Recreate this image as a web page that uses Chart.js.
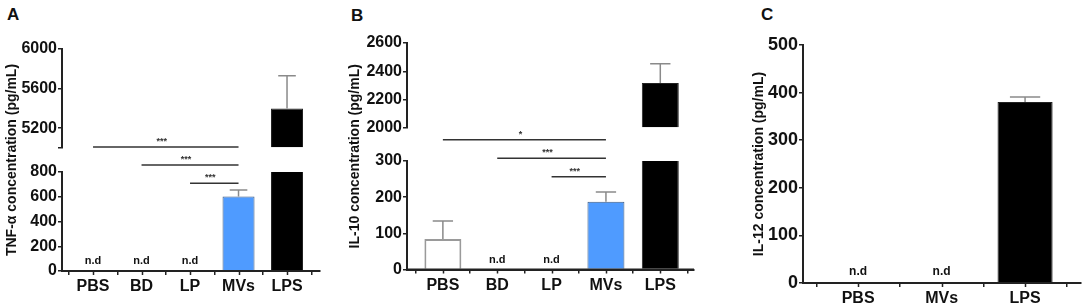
<!DOCTYPE html>
<html>
<head>
<meta charset="utf-8">
<script src="https://cdn.jsdelivr.net/npm/chart.js@4.4.1/dist/chart.umd.min.js"></script>
<style>
body { margin: 0; background: #fff; width: 1084px; height: 306px; position: relative; overflow: hidden; font-family: "Liberation Sans", Arial, sans-serif; }
canvas { position: absolute; top: 0; }
.tag { position: absolute; font-weight: bold; font-size: 17px; line-height: 17px; color: #111; }
</style>
</head>
<body>
<div class="tag" style="left:7px;top:6px">A</div>
<div class="tag" style="left:351px;top:7px">B</div>
<div class="tag" style="left:761px;top:6px">C</div>
<canvas id="chartA" width="335" height="306" style="left:0px"></canvas>
<canvas id="chartB" width="360" height="306" style="left:340px"></canvas>
<canvas id="chartC" width="384" height="306" style="left:700px"></canvas>
<script>
// panel A - TNF-a
var tnfCats = ['PBS', 'BD', 'LP', 'MVs', 'LPS'];
var tnfValues = [null, null, null, 603, 5400];
var tnfErrors = [null, null, null, 52, 330];
var tnfLowTicks = [0, 200, 400, 600, 800];
var tnfHighTicks = [5000, 5200, 5600, 6000];
var tnfSig = [[2, 3, '***'], [1, 3, '***'], [0, 3, '***']];

// panel B - IL-10
var il10Cats = ['PBS', 'BD', 'LP', 'MVs', 'LPS'];
var il10Values = [84, null, null, 187, 2318];
var il10Errors = [50, null, null, 27, 136];
var il10LowTicks = [0, 100, 200, 300];
var il10HighTicks = [2000, 2200, 2400, 2600];
var il10Sig = [[2, 3, '***'], [1, 3, '***'], [0, 3, '*']];

// panel C - IL-12
var il12Cats = ['PBS', 'MVs', 'LPS'];
var il12Values = [null, null, 380];
var il12Errors = [null, null, 11];
var il12Ticks = [0, 100, 200, 300, 400, 500];

var FONT = '"Liberation Sans", Arial, sans-serif';
var AXIS = '#222';
var barFill = {PBS: '#ffffff', MVs: '#4f9bff', LPS: '#000000'};
var barEdge = {PBS: '#9a9a9a', MVs: '#3d5a80', LPS: '#222222'};
var barEdgeW = {PBS: 2, MVs: 1, LPS: 1};

function bold(size) { return {family: FONT, size: size, weight: 'bold'}; }

function xAxis(cats, min, max, h) {
    return {
        type: 'linear', position: 'bottom', min: min, max: max, offset: false,
        afterBuildTicks: function(s) { s.ticks = cats.map(function(c, i) { return {value: i}; }); },
        afterFit: function(s) { s.height = h; },
        ticks: {callback: function(v) { return cats[v]; }, font: bold(16), color: '#111', padding: 2, maxRotation: 0, autoSkip: false},
        grid: {drawOnChartArea: false, tickLength: 4, color: AXIS, lineWidth: 1.5},
        border: {color: AXIS, width: 2}
    };
}

function yAxis(ticks, min, max, w, stackW, order, hideFirst) {
    return {
        type: 'linear', position: 'left', min: min, max: max, weight: order,
        stack: stackW ? 'seg' : undefined, stackWeight: stackW || 1,
        afterBuildTicks: function(s) { s.ticks = ticks.map(function(v) { return {value: v}; }); },
        afterFit: function(s) { s.width = w; },
        ticks: {font: bold(16), color: '#111', padding: 1, autoSkip: false,
            callback: function(v) { return (hideFirst && v === ticks[0]) ? '' : String(v); }},
        grid: {drawOnChartArea: false, tickLength: 4, color: AXIS, lineWidth: 1.5},
        border: {color: AXIS, width: 2}
    };
}

function gapAxis(w, stackW) {
    return {
        type: 'linear', position: 'left', stack: 'seg', stackWeight: stackW, weight: 2,
        afterFit: function(s) { s.width = w; },
        ticks: {display: false}, grid: {display: false}, border: {display: false}
    };
}

function titleAxis(text, size, pad) {
    return {
        type: 'linear', position: 'left', weight: 10,
        afterFit: function(s) { s.width = 0; },
        ticks: {display: false}, grid: {display: false}, border: {display: false},
        title: {display: true, text: text, font: bold(size), color: '#111', padding: {top: pad, bottom: 0}}
    };
}

// only the detected values become bars
function barData(cats, values, yId, base) {
    var pts = values.map(function(v, i) { return {x: i, y: v}; })
        .filter(function(p) { return p.y !== null; });
    var ds = {
        data: pts,
        yAxisID: yId,
        grouped: false,
        backgroundColor: pts.map(function(p) { return barFill[cats[p.x]]; }),
        borderColor: pts.map(function(p) { return barEdge[cats[p.x]]; }),
        borderWidth: pts.map(function(p) { return barEdgeW[cats[p.x]]; }),
        clip: 0
    };
    if (base !== undefined) ds.base = base;
    return ds;
}

function aboveBreak(values, brk) {
    return values.map(function(v) { return v !== null && v >= brk ? v : null; });
}

// error bars, n.d labels and significance brackets
var marks = {
    id: 'marks',
    afterDatasetsDraw: function(chart, args, o) {
        var ctx = chart.ctx, x = chart.scales.x;
        var low = chart.scales.yLow, high = chart.scales.yHigh;
        var unit = x.getPixelForValue(1) - x.getPixelForValue(0);
        var cap = unit * o.barPct * 0.55;
        ctx.save();
        o.values.forEach(function(v, i) {
            var cx = x.getPixelForValue(i);
            if (v === null) {
                ctx.fillStyle = '#111';
                ctx.font = 'bold ' + o.ndSize + 'px ' + FONT;
                ctx.textAlign = 'center';
                ctx.textBaseline = 'middle';
                ctx.fillText('n.d', cx, low.getPixelForValue(0) - o.ndLift);
                return;
            }
            var s = (high && v >= high.min) ? high : low;
            var y0 = s.getPixelForValue(v), y1 = s.getPixelForValue(v + o.errors[i]);
            ctx.strokeStyle = '#8a8a8a';
            ctx.lineWidth = 1.5;
            ctx.beginPath();
            ctx.moveTo(cx, y0); ctx.lineTo(cx, y1);
            ctx.moveTo(cx - cap / 2, y1); ctx.lineTo(cx + cap / 2, y1);
            ctx.stroke();
        });
        (o.sig || []).forEach(function(g, k) {
            var y = low.top + o.sigBase - k * o.sigStep;
            var a = x.getPixelForValue(g[0]), b = x.getPixelForValue(g[1]);
            ctx.strokeStyle = '#333';
            ctx.lineWidth = 1.5;
            ctx.beginPath();
            ctx.moveTo(a, y); ctx.lineTo(b, y);
            ctx.stroke();
            ctx.fillStyle = '#333';
            ctx.font = 'bold 9px ' + FONT;
            ctx.textAlign = 'center';
            ctx.textBaseline = 'bottom';
            ctx.fillText(g[2], (a + b) / 2 - 4, y - 1);
        });
        ctx.restore();
    },
    // category axis baseline and tick marks, placed from the scales
    afterDraw: function(chart) {
        var ctx = chart.ctx, x = chart.scales.x, low = chart.scales.yLow;
        var y = low.getPixelForValue(low.min);
        var x0 = x.getPixelForValue(x.min), x1 = x.getPixelForValue(x.max);
        ctx.save();
        ctx.strokeStyle = AXIS;
        ctx.lineWidth = 2;
        ctx.beginPath();
        ctx.moveTo(x0 - 1, y);
        ctx.lineTo(x1, y);
        ctx.stroke();
        ctx.lineWidth = 1.5;
        ctx.beginPath();
        x.ticks.forEach(function(t) {
            var px = Math.round(x.getPixelForValue(t.value)) + 0.5;
            ctx.moveTo(px, y);
            ctx.lineTo(px, y + 4);
        });
        ctx.stroke();
        ctx.restore();
    }
};

function baseOptions(pad, barPct) {
    return {
        responsive: false, animation: false,
        layout: {padding: pad},
        datasets: {bar: {barPercentage: barPct, categoryPercentage: 1}},
        plugins: {legend: {display: false}, tooltip: {enabled: false}}
    };
}

// panel A
(function() {
    var opts = baseOptions({top: 49, right: 15, bottom: 0, left: 0}, 0.66);
    opts.scales = {
        x: xAxis(tnfCats, -0.64, 4.68, 35),
        yTitle: titleAxis('TNF-α concentration (pg/mL)', 14, 4),
        yHigh: yAxis(tnfHighTicks, 5000, 6000, 62, 99, 3, true),
        yGap: gapAxis(62, 24),
        yLow: yAxis(tnfLowTicks, 0, 800, 62, 99, 1, false)
    };
    opts.plugins.marks = {values: tnfValues, errors: tnfErrors, barPct: 0.66, ndSize: 11, ndLift: 10,
        sig: tnfSig, sigBase: 11.3, sigStep: 18.2};
    new Chart(document.getElementById('chartA'), {
        type: 'bar',
        data: {datasets: [
            barData(tnfCats, tnfValues, 'yLow'),
            barData(tnfCats, aboveBreak(tnfValues, 5000), 'yHigh', 5000)
        ]},
        options: opts,
        plugins: [marks]
    });
})();

// panel B
(function() {
    var opts = baseOptions({top: 43, right: 6, bottom: 0, left: 0}, 0.68);
    opts.scales = {
        x: xAxis(il10Cats, -0.66, 4.62, 36.5),
        yTitle: titleAxis('IL-10 concentration (pg/mL)', 14, 7),
        yHigh: yAxis(il10HighTicks, 2000, 2600, 67, 85, 3, false),
        yGap: gapAxis(67, 33),
        yLow: yAxis(il10LowTicks, 0, 300, 67, 108.5, 1, false)
    };
    opts.plugins.marks = {values: il10Values, errors: il10Errors, barPct: 0.68, ndSize: 11, ndLift: 10,
        sig: il10Sig, sigBase: 15.7, sigStep: 18.5};
    new Chart(document.getElementById('chartB'), {
        type: 'bar',
        data: {datasets: [
            barData(il10Cats, il10Values, 'yLow'),
            barData(il10Cats, aboveBreak(il10Values, 2000), 'yHigh', 2000)
        ]},
        options: opts,
        plugins: [marks]
    });
})();

// panel C
(function() {
    var opts = baseOptions({top: 45, right: 3, bottom: 0, left: 0}, 0.66);
    var y = yAxis(il12Ticks, 0, 500, 103, 0, 1, false);
    y.ticks.font = bold(18);
    y.title = {display: true, text: 'IL-12 concentration (pg/mL)', font: bold(14), color: '#111', padding: {top: 51, bottom: 0}};
    opts.scales = {x: xAxis(il12Cats, -0.66, 2.67, 23), yLow: y};
    opts.plugins.marks = {values: il12Values, errors: il12Errors, barPct: 0.66, ndSize: 12, ndLift: 11};
    new Chart(document.getElementById('chartC'), {
        type: 'bar',
        data: {datasets: [barData(il12Cats, il12Values, 'yLow')]},
        options: opts,
        plugins: [marks]
    });
})();
</script>
</body>
</html>
